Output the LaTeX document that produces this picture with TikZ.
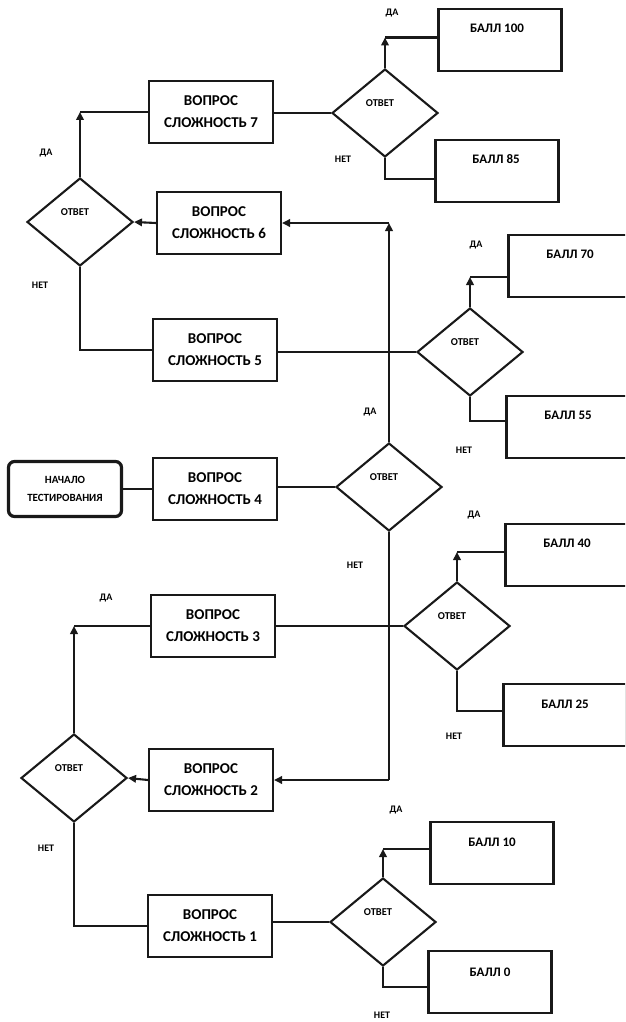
\documentclass[tikz,border=0pt]{standalone}
\usepackage{fontspec}
\setmainfont{Carlito}
\usetikzlibrary{shapes.geometric,arrows.meta}
\begin{document}
\begin{tikzpicture}[x=1pt,y=-1pt,
  ink/.style={draw=black!90, line width=2.1pt},
  qbox/.style={ink, rectangle, minimum width=124pt, minimum height=62pt, inner sep=0pt, align=center, font=\bfseries\fontsize{15}{22}\selectfont},
  startbox/.style={draw=black!90, line width=3.2pt, rounded corners=6pt, rectangle, minimum width=113pt, minimum height=55pt, inner sep=0pt, align=center, font=\bfseries\fontsize{11}{18}\selectfont},
  sbox/.style={ink, rectangle, minimum width=123pt, minimum height=62pt, inner sep=0pt},
  stxt/.style={font=\bfseries\fontsize{13}{15}\selectfont, inner sep=0pt},
  dia/.style={ink, diamond, minimum width=106pt, minimum height=88pt, inner sep=0pt},
  dtxt/.style={font=\bfseries\fontsize{10.5}{12}\selectfont, inner sep=0pt},
  lbl/.style={font=\bfseries\fontsize{10}{12}\selectfont, inner sep=0pt},
  conn/.style={ink},
  arr/.style={ink, -{Triangle[length=8pt,width=7.5pt]}},
]
\useasboundingbox (0,0) rectangle (625,1022);
\clip (0,0) rectangle (625,1022);
\fill[white] (0,0) rectangle (625,1022);

% start
\node[startbox] (start) at (65,489) {НАЧАЛО\\ТЕСТИРОВАНИЯ};

% question boxes
\node[qbox] (q7) at (211,112) {ВОПРОС\\СЛОЖНОСТЬ 7};
\node[qbox] (q6) at (219,223) {ВОПРОС\\СЛОЖНОСТЬ 6};
\node[qbox] (q5) at (215,350) {ВОПРОС\\СЛОЖНОСТЬ 5};
\node[qbox] (q4) at (215,489) {ВОПРОС\\СЛОЖНОСТЬ 4};
\node[qbox] (q3) at (213,626) {ВОПРОС\\СЛОЖНОСТЬ 3};
\node[qbox] (q2) at (211,780) {ВОПРОС\\СЛОЖНОСТЬ 2};
\node[qbox] (q1) at (210,926) {ВОПРОС\\СЛОЖНОСТЬ 1};

% decisions
\node[dia] (d7) at (385,113) {};
\node[dia] (d6) at (80,222) {};
\node[dia] (d5) at (470,352) {};
\node[dia] (d4) at (389,487) {};
\node[dia] (d3) at (457,626) {};
\node[dia] (d2) at (74,778) {};
\node[dia] (d1) at (383,922) {};
\foreach \d in {d7,d6,d5,d4,d3,d2,d1}{
  \node[dtxt] (\d t) at ([xshift=-5pt,yshift=10pt]\d.center) {ОТВЕТ};
}

% score boxes
\node[sbox] (b100) at (500,40) {};
\node[sbox] (b85) at (497,171) {};
\node[sbox] (b70) at (570,266) {};
\node[sbox] (b55) at (568,427) {};
\node[sbox] (b40) at (567,555) {};
\node[sbox] (b25) at (565,715) {};
\node[sbox] (b10) at (492,853) {};
\node[sbox] (b0) at (490,982) {};
\node[stxt] (t100) at ([xshift=-3pt,yshift=12pt]b100.center) {БАЛЛ 100};
\node[stxt] (t85) at ([xshift=-1pt,yshift=12pt]b85.center) {БАЛЛ 85};
\node[stxt] (t70) at ([yshift=12pt]b70.center) {БАЛЛ 70};
\node[stxt] (t55) at ([yshift=12pt]b55.center) {БАЛЛ 55};
\node[stxt] (t40) at ([yshift=12pt]b40.center) {БАЛЛ 40};
\node[stxt] (t25) at ([yshift=11pt]b25.center) {БАЛЛ 25};
\node[stxt] (t10) at ([yshift=11pt]b10.center) {БАЛЛ 10};
\node[stxt] (t0) at ([yshift=10pt]b0.center) {БАЛЛ 0};

% entry points on score boxes
\coordinate (e100) at ([yshift=2.5pt]b100.west);
\coordinate (e85) at ([yshift=-8pt]b85.west);
\coordinate (e70) at ([yshift=-11pt]b70.west);
\coordinate (e55) at ([yshift=6pt]b55.west);
\coordinate (e40) at ([yshift=3pt]b40.west);
\coordinate (e25) at ([yshift=4pt]b25.west);
\coordinate (e10) at ([yshift=4pt]b10.west);
\coordinate (e0) at ([yshift=-5pt]b0.west);

% main flow
\draw[conn] (start.east) -- (q4.west);
\draw[conn] (q4.east |- d4.west) -- (d4.west);
\draw[arr] (d4.north) -- (d4.north |- q6.east);
\draw[arr] (d4.north |- q6.east) -- (q6.east);
\draw[conn] (d4.south) -- (d4.south |- q2.east);
\draw[arr] (d4.south |- q2.east) -- (q2.east);

\draw[arr] (q6.west) -- (d6.east);
\draw[arr] (d6.north) -- (d6.north |- q7.west);
\draw[conn] (d6.north |- q7.west) -- (q7.west);
\draw[conn] (d6.south) -- (d6.south |- q5.west) -- (q5.west);

\draw[arr] (q2.west) -- (d2.east);
\draw[arr] (d2.north) -- (d2.north |- q3.west);
\draw[conn] (d2.north |- q3.west) -- (q3.west);
\draw[conn] (d2.south) -- (d2.south |- q1.west) -- (q1.west);

\draw[conn] (q7.east |- d7.west) -- (d7.west);
\draw[conn] (q5.east |- d5.west) -- (d5.west);
\draw[conn] (q3.east |- d3.west) -- (d3.west);
\draw[conn] (q1.east |- d1.west) -- (d1.west);

% score branches
\draw[arr] (d7.north) -- (d7.north |- e100);
\draw[conn] (d7.north |- e100) -- (e100);
\draw[conn] (d7.south) -- (d7.south |- e85) -- (e85);
\draw[arr] (d5.north) -- (d5.north |- e70);
\draw[conn] (d5.north |- e70) -- (e70);
\draw[conn] (d5.south) -- (d5.south |- e55) -- (e55);
\draw[arr] (d3.north) -- (d3.north |- e40);
\draw[conn] (d3.north |- e40) -- (e40);
\draw[conn] (d3.south) -- (d3.south |- e25) -- (e25);
\draw[arr] (d1.north) -- (d1.north |- e10);
\draw[conn] (d1.north |- e10) -- (e10);
\draw[conn] (d1.south) -- (d1.south |- e0) -- (e0);

% branch labels
\node[lbl] (y7) at (392,13) {ДА};
\node[lbl] (n7) at (343,159) {НЕТ};
\node[lbl] (y6) at (46,153) {ДА};
\node[lbl] (n6) at (40,285) {НЕТ};
\node[lbl] (y5) at (476,245) {ДА};
\node[lbl] (n5) at (464,450) {НЕТ};
\node[lbl] (y4) at (370,412) {ДА};
\node[lbl] (n4) at (355,565) {НЕТ};
\node[lbl] (y3) at (474,515) {ДА};
\node[lbl] (n3) at (454,736) {НЕТ};
\node[lbl] (y2) at (106,598) {ДА};
\node[lbl] (n2) at (46,848) {НЕТ};
\node[lbl] (y1) at (396,810) {ДА};
\node[lbl] (n1) at (382,1015) {НЕТ};
\end{tikzpicture}
\end{document}
